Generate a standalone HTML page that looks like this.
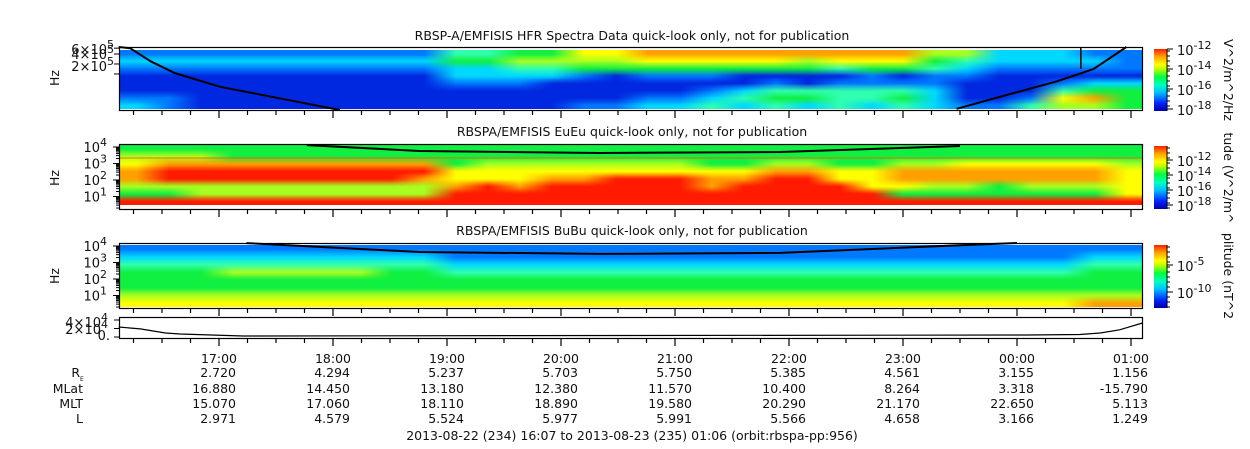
<!DOCTYPE html>
<html><head><meta charset="utf-8"><style>
html,body{margin:0;padding:0;background:#fff;width:1250px;height:449px;overflow:hidden}
#wrap{position:relative;width:1250px;height:449px}
canvas{position:absolute}
svg{position:absolute;left:0;top:0}
text{font-family:"DejaVu Sans","Liberation Sans",sans-serif;fill:#111}
</style></head><body>
<div id="wrap">
<canvas id="c1" width="1022" height="59" style="left:120px;top:50px"></canvas>
<canvas id="c2" width="1022" height="60" style="left:120px;top:145px"></canvas>
<canvas id="c3" width="1022" height="62" style="left:120px;top:245px"></canvas>
<svg id="s" width="1250" height="449" xmlns="http://www.w3.org/2000/svg">
<defs><linearGradient id="jet" x1="0" y1="1" x2="0" y2="0">
<stop offset="0" stop-color="#0000a0"/><stop offset="0.12" stop-color="#0020ff"/><stop offset="0.3" stop-color="#00c0ff"/><stop offset="0.42" stop-color="#00ffc0"/><stop offset="0.55" stop-color="#00ff40"/><stop offset="0.68" stop-color="#c0ff00"/><stop offset="0.75" stop-color="#ffff00"/><stop offset="0.88" stop-color="#ffa000"/><stop offset="1" stop-color="#ff2000"/></linearGradient></defs>
</svg>
</div>
<script>
// ---- data ----
const hourTicks = [17,18,19,20,21,22,23,24,25];
const hourLabels = ["17:00","18:00","19:00","20:00","21:00","22:00","23:00","00:00","01:00"];
const reVals = ["2.720","4.294","5.237","5.703","5.750","5.385","4.561","3.155","1.156"];
const mlatVals = ["16.880","14.450","13.180","12.380","11.570","10.400","8.264","3.318","-15.790"];
const mltVals = ["15.070","17.060","18.110","18.890","19.580","20.290","21.170","22.650","5.113"];
const lVals = ["2.971","4.579","5.524","5.977","5.991","5.566","4.658","3.166","1.249"];
const hfrGrid = [
"22222222224455778888888886633322",
"33333333335566667777767775433332",
"22222222223344555555554554322222",
"11111111113333212221111212211111",
"11111111112221111111212222111233",
"11111111111111111123444443111455",
"22111111111111112234554453112785",
"32111111111111223343434343224665"];
const euGrid = [
"55555555555555555555555555555555",
"66655555555555555555555555555555",
"78888888885666666655665566777776",
"89999999997777777777887788888887",
"89999999987778899988997788888887",
"66666666668989999989999776656667",
"55666666669999999999999955555557",
"99999999999999999999999999999999"];
const buGrid = [
"22222222222222222222222222222222",
"33333333332222222222222222222233",
"44444444443333333333333333333344",
"55566666554444444444444444444455",
"55555555555555555555555555555555",
"55555555555555555555555555555555",
"66666666666666666666666666666666",
"77777777777777777777777777777788"];
const fceHfrT = [16.12,16.22,16.4,16.61,17.01,17.62,18.06];
const fceHfrF = [650000,600000,240000,107000,41000,16000,8200];
const fceHfrT2 = [23.47,23.96,24.35,24.67,24.96];
const fceHfrF2 = [8900,26000,60000,140000,650000];
const fceEuT = [17.77,18.76,20.34,21.92,23.5];
const fceEuF = [13000,5700,4300,5000,11500];
const fceBuT = [17.24,18.76,20.34,21.92,23.5,24.0];
const fceBuF = [15000,4300,3300,3800,11000,16000];
const distT = [16.12,16.31,16.53,16.66,17.21,24.09,24.55,24.73,24.9,25.1];
const distV = [23500,19000,9400,7000,2400,4700,5900,9400,17000,33000];

// ---- scales ----
const X0=120,X1=1142;
const xOf = h => 219 + (h-17)*114;
const yHfr = f => 47 + 14.4*Math.log(650000/f);
const yEu = f => 147 + 16.5*(4-Math.log10(f));
const yBu = f => 246 + 16.5*(4-Math.log10(f));
const yDist = v => 337 - v*0.000425;
const cmap = ["#00008f","#0028e0","#0078ff","#00d8ff","#30ffb0","#10f040","#a8ff20","#ffff00","#ffa000","#ff1a00"];

function heat(id,grid){
  const c=document.getElementById(id), ctx=c.getContext('2d');
  const rows=grid.length, cols=grid[0].length;
  const o=document.createElement('canvas'); o.width=cols; o.height=rows;
  const oc=o.getContext('2d');
  for(let r=0;r<rows;r++)for(let k=0;k<cols;k++){oc.fillStyle=cmap[+grid[r][k]];oc.fillRect(k,r,1,1);}
  ctx.imageSmoothingEnabled=true;
  ctx.drawImage(o,0,0,c.width,c.height);
}
heat('c1',hfrGrid);heat('c2',euGrid);heat('c3',buGrid);

const S=document.getElementById('s'), NS="http://www.w3.org/2000/svg";
function el(tag,attrs,parent){const e=document.createElementNS(NS,tag);for(const k in attrs)e.setAttribute(k,attrs[k]);(parent||S).appendChild(e);return e;}
function txt(x,y,s,anchor,fs){const t=el('text',{x:x,y:y,'text-anchor':anchor||'start',style:'font-size:'+(fs||12.5)+'px'});t.textContent=s;return t;}

let t;
t=txt(632,40,"RBSP-A/EMFISIS  HFR Spectra Data quick-look only, not for publication","middle");


t=txt(632,136,"RBSPA/EMFISIS  EuEu quick-look only, not for publication","middle");


t=txt(632,235,"RBSPA/EMFISIS  BuBu quick-look only, not for publication","middle");



function curve(T,F,yf,name,clipTop,clipBot){
  let d="";T.forEach((h,i)=>{let y=Math.max(clipTop,Math.min(clipBot,yf(F[i])));d+=(i?"L":"M")+xOf(h).toFixed(1)+","+y.toFixed(1);});
  const p=el('path',{d:d,fill:'none',stroke:'#000','stroke-width':2,'stroke-linejoin':'round'});
  
  
}
curve(fceHfrT,fceHfrF,yHfr,'fce-line-left',47,110);
curve(fceHfrT2,fceHfrF2,yHfr,'fce-line-right',47,110);
curve(fceEuT,fceEuF,yEu,'fce-line-eueu',144,209);
curve(fceBuT,fceBuF,yBu,'fce-line-bubu',243,308);
let vl=el('line',{x1:xOf(24.56),y1:47,x2:xOf(24.56),y2:69,stroke:'#000','stroke-width':1.5});


let ol=el('line',{x1:X0,x2:X1,y1:yEu(2150),y2:yEu(2150),stroke:'#ff5000','stroke-width':1,opacity:0.8});



let dd="";distT.forEach((h,i)=>{dd+=(i?"L":"M")+xOf(h).toFixed(1)+","+yDist(distV[i]).toFixed(1);});
let dp=el('path',{d:dd,fill:'none',stroke:'#000','stroke-width':1.2});



const frames=[[47,110,'hfr-frame'],[144,209,'eueu-frame'],[243,308,'bubu-frame'],[317,338,'distance-frame']];
frames.forEach(f=>{
  let r=el('rect',{x:X0-0.5,y:f[0]+0.5,width:X1-X0+1,height:f[1]-f[0],fill:'none',stroke:'#000','stroke-width':1.2});
  
  
  for(let m=16.25;m<=25.1;m+=0.25){
    const x=xOf(m); if(x<X0||x>X1)continue;
    const major=Math.abs(m-Math.round(m))<0.01;
    el('line',{x1:x,x2:x,y1:f[1]+1,y2:f[1]+(major?8:5),stroke:'#000','stroke-width':1.2});
  }
});

function ylab(x,y,base,exp,name){
  const t=el('text',{x:x,y:y,'text-anchor':'end',style:'font-size:13px'});
  
  
  const a=document.createElementNS(NS,'tspan');a.textContent=base;t.appendChild(a);
  const b=document.createElementNS(NS,'tspan');b.setAttribute('dy','-6');b.setAttribute('style','font-size:11px');b.textContent=exp;t.appendChild(b);
}
function hz(y,name){const t=el('text',{x:0,y:0,transform:`translate(59,${y}) rotate(-90)`,'text-anchor':'middle',style:'font-size:12.5px'});t.textContent="Hz";
  
  }
hz(78,'hfr-y-axis-title');hz(178,'eueu-y-axis-title');hz(276,'bubu-y-axis-title');
const hfrTickF=[600000,400000,200000,100000];
hfrTickF.forEach(f=>el('line',{x1:X0-6,x2:X0,y1:yHfr(f),y2:yHfr(f),stroke:'#000'}));
ylab(114,54,"6×10","5",'hfr-tick-6e5');ylab(114,59,"4×10","5",'hfr-tick-4e5');ylab(114,71,"2×10","5",'hfr-tick-2e5');
const decades=[1,2,3,4];
[[yEu,144,209,'eueu'],[yBu,243,308,'bubu']].forEach(p=>{
  for(let d=0;d<=4;d++)for(let k=1;k<10;k++){const y=p[0](k*Math.pow(10,d));if(y<p[1]||y>p[2])continue;
    el('line',{x1:X0-(k==1?7:4),x2:X0,y1:y,y2:y,stroke:'#000'});}
  decades.forEach(d=>ylab(107,p[0](Math.pow(10,d))+5,"10",String(d),p[3]+'-tick-1e'+d));
});
const distTicks=[0,20000,40000];
distTicks.forEach(v=>el('line',{x1:X0-6,x2:X0,y1:yDist(v),y2:yDist(v),stroke:'#000'}));
ylab(108,327,"4×10","4",'distance-tick-4e4');ylab(108,334,"2×10","4",'distance-tick-2e4');
t=txt(110,340,"0.","end",13);

const bars=[[49,111,'hfr-colorbar',[[49,"-12"],[69,"-14"],[89,"-16"],[109,"-18"]],"V^2/m^2/Hz",80],
            [146,209,'eueu-colorbar',[[160,"-12"],[175,"-14"],[190,"-16"],[205,"-18"]],"tude (V^2/m^",178],
            [245,308,'bubu-colorbar',[[265,"-5"],[292,"-10"]],"plitude (nT^2",276]];
bars.forEach(b=>{
  const r=el('rect',{x:1154,y:b[0],width:13,height:b[1]-b[0],fill:'url(#jet)'});
  
  
  el('line',{x1:1167,x2:1167,y1:b[0],y2:b[1],stroke:'#000'});
  for(let y=b[0]+2;y<b[1];y+=5)el('line',{x1:1167,x2:1170,y1:y,y2:y,stroke:'#000'});
  b[3].forEach(l=>{el('line',{x1:1167,x2:1173,y1:l[0],y2:l[0],stroke:'#000'});
    const t=el('text',{x:1177,y:l[0]+6,style:'font-size:13px'});
    const a=document.createElementNS(NS,'tspan');a.textContent="10";t.appendChild(a);
    const e=document.createElementNS(NS,'tspan');e.setAttribute('dy','-6');e.setAttribute('style','font-size:11px');e.textContent=l[1];t.appendChild(e);});
  const tt=el('text',{x:0,y:0,transform:`translate(1224,${b[5]}) rotate(90)`,'text-anchor':'middle',style:'font-size:12.5px'});
  tt.textContent=b[4];
  
  
});

const rows=[[363,hourLabels,null],[377,reVals,"R"],[393,mlatVals,"MLat"],[408,mltVals,"MLT"],[423,lVals,"L"]];
rows.forEach((r,ri)=>{
  r[1].forEach((s,i)=>{const t=txt(xOf(hourTicks[i])+(ri==0?0:17),r[0],s,ri==0?'middle':'end');
    
    });
  if(r[2]){const t=txt(r[2]=="R"?80:83,r[0],r[2],'end');
    
    
    if(r[2]=="R"){const s=el('text',{x:80,y:r[0]+4,style:'font-size:6px'});s.textContent="E";}}
});
t=txt(632,440,"2013-08-22 (234) 16:07 to 2013-08-23 (235) 01:06 (orbit:rbspa-pp:956)","middle");


</script>
</body></html>
